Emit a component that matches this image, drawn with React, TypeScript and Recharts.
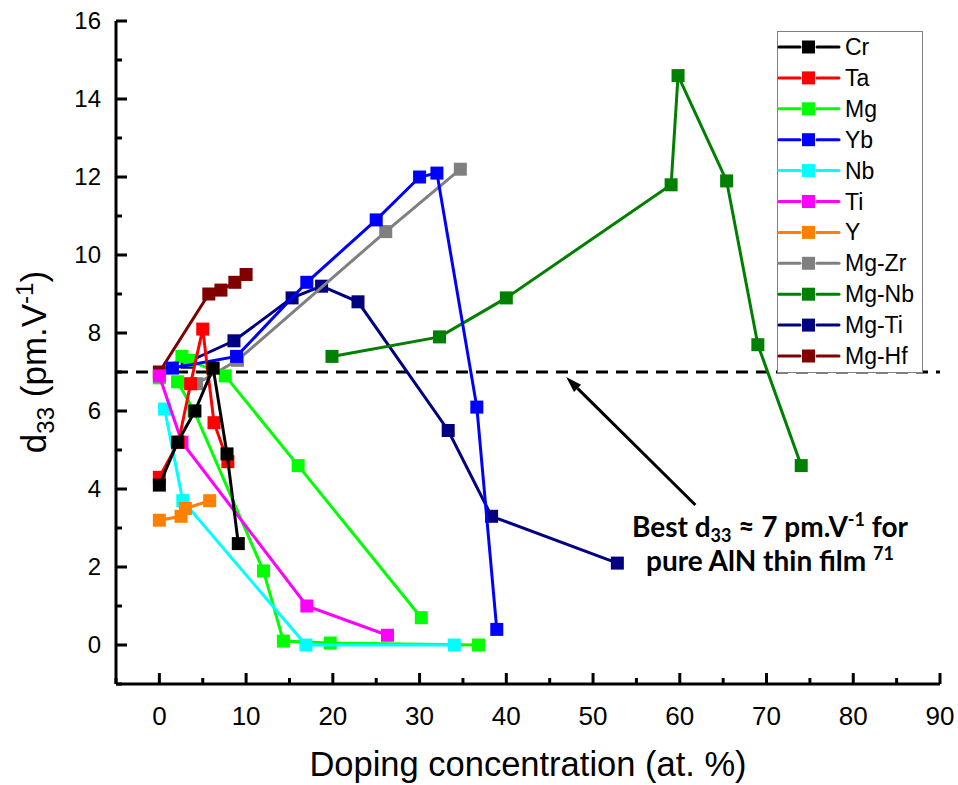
import React from 'react'
import { ScatterChart, Scatter, XAxis, YAxis, ReferenceLine, ReferenceDot, Legend, Label } from 'recharts'

// --- Data (doping concentration in at.% / d33 in pm.V-1) ---

const crX = [0, 2.1, 4.1, 6.2, 7.8, 9.1]
const crY = [4.1, 5.2, 6.0, 7.1, 4.9, 2.6]

const taX = [0, 2.2, 3.6, 5.0, 6.3, 7.9]
const taY = [4.3, 5.2, 6.7, 8.1, 5.7, 4.7]

const mgX = [0, 2.6, 3.5, 7.6, 16.0, 30.2]
const mgY = [6.85, 7.4, 7.3, 6.9, 4.6, 0.7]
const mg2X = [2.1, 4.0, 12.0, 14.3, 19.7, 36.8]
const mg2Y = [6.75, 6.0, 1.9, 0.1, 0.05, 0.0]

const ybX = [1.5, 8.9, 17.0, 25.0, 30.0, 32.0, 36.6, 38.9]
const ybY = [7.1, 7.4, 9.3, 10.9, 12.0, 12.1, 6.1, 0.4]

const nbX = [0.6, 2.7, 16.9, 34.0]
const nbY = [6.05, 3.7, 0.0, 0.0]

const tiX = [0, 2.6, 17.0, 26.3]
const tiY = [6.9, 5.2, 1.0, 0.25]

const yX = [0, 2.5, 3.0, 5.8]
const yY = [3.2, 3.3, 3.5, 3.7]

const mgZrX = [4.3, 9.0, 26.1, 34.7]
const mgZrY = [6.7, 7.3, 10.6, 12.2]

const mgNbX = [19.9, 32.3, 40.0, 59.0, 59.8, 65.4, 69.0, 74.0]
const mgNbY = [7.4, 7.9, 8.9, 11.8, 14.6, 11.9, 7.7, 4.6]

const mgTiX = [3.2, 8.6, 15.3, 18.7, 22.9, 33.3, 38.3, 52.8]
const mgTiY = [7.25, 7.8, 8.9, 9.2, 8.8, 5.5, 3.3, 2.1]

const mgHfX = [0, 5.7, 7.1, 8.7, 10.0]
const mgHfY = [7.0, 9.0, 9.1, 9.3, 9.5]

const X_TICKS = [-5, 0, 5, 10, 15, 20, 25, 30, 35, 40, 45, 50, 55, 60, 65, 70, 75, 80, 85, 90]
const Y_TICKS = [-1, 0, 1, 2, 3, 4, 5, 6, 7, 8, 9, 10, 11, 12, 13, 14, 15, 16]

const PURE_ALN_D33 = 7
const ARROW_FROM = { x: 61.8, y: 3.59 }
const ARROW_TO = { x: 46.9, y: 6.87 }
const NOTE_AT = { x: 70.4, y: 2.77 }

const pts = (xs: number[], ys: number[]) => xs.map((x, i) => ({ x, y: ys[i] }))

interface Series {
  name: string
  color: string
  data: { x: number; y: number }[]
  inLegend: boolean
}

const SERIES: Series[] = [
  { name: 'Cr', color: '#000000', data: pts(crX, crY), inLegend: true },
  { name: 'Ta', color: '#FF0000', data: pts(taX, taY), inLegend: true },
  { name: 'Mg', color: '#00FF00', data: pts(mgX, mgY), inLegend: true },
  { name: 'Mg (2)', color: '#00FF00', data: pts(mg2X, mg2Y), inLegend: false },
  { name: 'Yb', color: '#0000FF', data: pts(ybX, ybY), inLegend: true },
  { name: 'Nb', color: '#00FFFF', data: pts(nbX, nbY), inLegend: true },
  { name: 'Ti', color: '#FF00FF', data: pts(tiX, tiY), inLegend: true },
  { name: 'Y', color: '#FF8000', data: pts(yX, yY), inLegend: true },
  { name: 'Mg-Zr', color: '#808080', data: pts(mgZrX, mgZrY), inLegend: true },
  { name: 'Mg-Nb', color: '#008000', data: pts(mgNbX, mgNbY), inLegend: true },
  { name: 'Mg-Ti', color: '#000080', data: pts(mgTiX, mgTiY), inLegend: true },
  { name: 'Mg-Hf', color: '#800000', data: pts(mgHfX, mgHfY), inLegend: true },
]

// bottom-most first, so Cr ends up on top like in the figure
const DRAW_ORDER = ['Mg-Hf', 'Mg-Ti', 'Mg-Nb', 'Mg-Zr', 'Mg (2)', 'Mg', 'Nb', 'Y', 'Ti', 'Yb', 'Ta', 'Cr']

const ARIAL = "'Liberation Sans', Arial, sans-serif"
const NARROW = "'Liberation Sans Narrow', 'Liberation Sans', sans-serif"

// --- Ticks (inward, major + minor) ---

function BottomTick({ x, y, payload }: any) {
  const v = payload.value
  const major = v % 10 === 0
  return (
    <g>
      <line x1={x} y1={y} x2={x} y2={y - (major ? 11 : 6)} stroke="#000" strokeWidth={3} />
      {major && (
        <text x={x} y={y + 41} textAnchor="middle" fontFamily={NARROW} fontSize={26} fill="#000">
          {v}
        </text>
      )}
    </g>
  )
}

function TopTick({ x, y, payload }: any) {
  const major = payload.value % 10 === 0
  return <line x1={x} y1={y} x2={x} y2={y + (major ? 11 : 6)} stroke="#000" strokeWidth={3} />
}

function LeftTick({ x, y, payload }: any) {
  const v = payload.value
  const major = v % 2 === 0
  return (
    <g>
      <line x1={x} y1={y} x2={x + (major ? 11 : 6)} y2={y} stroke="#000" strokeWidth={3} />
      {major && (
        <text x={x - 15} y={y + 8} textAnchor="end" fontFamily={ARIAL} fontSize={24} fill="#000">
          {v}
        </text>
      )}
    </g>
  )
}

function RightTick({ x, y, payload }: any) {
  const major = payload.value % 2 === 0
  return <line x1={x} y1={y} x2={x - (major ? 11 : 6)} y2={y} stroke="#000" strokeWidth={3} />
}

// --- Decorations ---

function square(color: string) {
  return (p: any) => (
    <rect x={p.cx - 6.5} y={p.cy - 6.5} width={13} height={13} fill={color} />
  )
}

function Arrow(p: any) {
  const { x1, y1, x2, y2 } = p
  const a = Math.atan2(y2 - y1, x2 - x1)
  const len = 16
  const half = 5
  const bx = x2 - len * Math.cos(a)
  const by = y2 - len * Math.sin(a)
  const nx = -Math.sin(a) * half
  const ny = Math.cos(a) * half
  return (
    <g>
      <line x1={x1} y1={y1} x2={bx} y2={by} stroke="#000" strokeWidth={3} />
      <path d={`M${x2},${y2} L${bx + nx},${by + ny} L${bx - nx},${by - ny} Z`} fill="#000" />
    </g>
  )
}

function Note(p: any) {
  const { cx, cy } = p
  return (
    <text x={cx} y={cy} textAnchor="middle" fontFamily="Lato, 'Open Sans', sans-serif" fontWeight={700} fontSize={28} fill="#000">
      <tspan x={cx} y={cy}>
        Best d<tspan dy={5} fontSize={18}>33</tspan>
        <tspan dy={-5}> ≈ 7 pm.V</tspan>
        <tspan dy={-11} fontSize={18}>-1</tspan>
        <tspan dy={11}> for</tspan>
      </tspan>
      <tspan x={cx} y={cy + 34}>
        pure AlN thin film <tspan dy={-11} fontSize={18}>71</tspan>
      </tspan>
    </text>
  )
}

function LegendBox() {
  const rowH = 30.9
  const items = SERIES.filter(s => s.inLegend)
  return (
    <svg width={146} height={342} style={{ display: 'block', overflow: 'visible' }}>
      <rect x={0.5} y={0.5} width={145} height={341} fill="#fff" stroke="#7f7f7f" strokeWidth={1} />
      {items.map((s, i) => {
        const cy = 16 + i * rowH
        return (
          <g key={s.name}>
            <line x1={2} y1={cy} x2={23} y2={cy} stroke={s.color} strokeWidth={3} strokeLinecap="round" />
            <line x1={40} y1={cy} x2={62} y2={cy} stroke={s.color} strokeWidth={3} strokeLinecap="round" />
            <rect x={25} y={cy - 6.5} width={13} height={13} fill={s.color} />
            <text x={68} y={cy + 8} fontFamily={ARIAL} fontSize={23} fill="#000">
              {s.name}
            </text>
          </g>
        )
      })}
    </svg>
  )
}

function XTitle(p: any) {
  const vb = p.viewBox
  return (
    <text x={vb.x + vb.width / 2} y={776} textAnchor="middle" fontFamily={ARIAL} fontSize={34.5} fill="#000">
      Doping concentration (at. %)
    </text>
  )
}

function YTitle() {
  return (
    <text transform="translate(46, 362) rotate(-90)" textAnchor="middle" fontFamily={ARIAL} fontSize={35} fill="#000">
      d<tspan dy={8} fontSize={24}>33</tspan>
      <tspan dy={-8}> (pm.V</tspan>
      <tspan dy={-13} fontSize={24}>-1</tspan>
      <tspan dy={13}>)</tspan>
    </text>
  )
}

export default function App() {
  const drawOrder = DRAW_ORDER.map(n => SERIES.find(s => s.name === n)!)
  return (
    <div style={{ position: 'absolute', left: 0, top: 0, width: 958, height: 785, background: '#fff' }}>
      <ScatterChart width={958} height={785} margin={{ top: 21, right: 18, left: 36, bottom: 41 }}>
        <XAxis
          type="number"
          dataKey="x"
          domain={[-5, 90]}
          ticks={X_TICKS}
          interval={0}
          height={60}
          tickSize={0}
          tickMargin={0}
          tick={<BottomTick />}
          tickLine={false}
          axisLine={{ stroke: '#000', strokeWidth: 3 }}
        >
          <Label content={XTitle} />
        </XAxis>
        <XAxis
          xAxisId="top"
          orientation="top"
          type="number"
          domain={[-5, 90]}
          ticks={X_TICKS}
          interval={0}
          height={0}
          tickSize={0}
          tickMargin={0}
          tick={<TopTick />}
          tickLine={false}
          axisLine={{ stroke: '#000', strokeWidth: 3 }}
        />
        <YAxis
          type="number"
          dataKey="y"
          domain={[-1, 16]}
          ticks={Y_TICKS}
          interval={0}
          width={80}
          tickSize={0}
          tickMargin={0}
          tick={<LeftTick />}
          tickLine={false}
          axisLine={{ stroke: '#000', strokeWidth: 3 }}
        >
          <Label content={YTitle} />
        </YAxis>
        <YAxis
          yAxisId="right"
          orientation="right"
          type="number"
          domain={[-1, 16]}
          ticks={Y_TICKS}
          interval={0}
          width={0}
          tickSize={0}
          tickMargin={0}
          tick={<RightTick />}
          tickLine={false}
          axisLine={{ stroke: '#000', strokeWidth: 3 }}
        />
        <ReferenceLine y={PURE_ALN_D33} stroke="#000" strokeWidth={3} strokeDasharray="12 8" />
        {drawOrder.map(s => (
          <Scatter
            key={s.name}
            name={s.name}
            data={s.data}
            fill={s.color}
            line={{ stroke: s.color, strokeWidth: 3 }}
            shape={square(s.color)}
            legendType={s.inLegend ? 'square' : 'none'}
            isAnimationActive={false}
          />
        ))}
        <ReferenceLine segment={[ARROW_FROM, ARROW_TO]} shape={Arrow} />
        <ReferenceDot x={NOTE_AT.x} y={NOTE_AT.y} r={0} shape={Note} />
        <Legend
          layout="vertical"
          align="center"
          verticalAlign="middle"
          content={() => <LegendBox />}
          wrapperStyle={{ position: 'absolute', left: 777, top: 31, width: 146, height: 342 }}
        />
      </ScatterChart>
    </div>
  )
}
